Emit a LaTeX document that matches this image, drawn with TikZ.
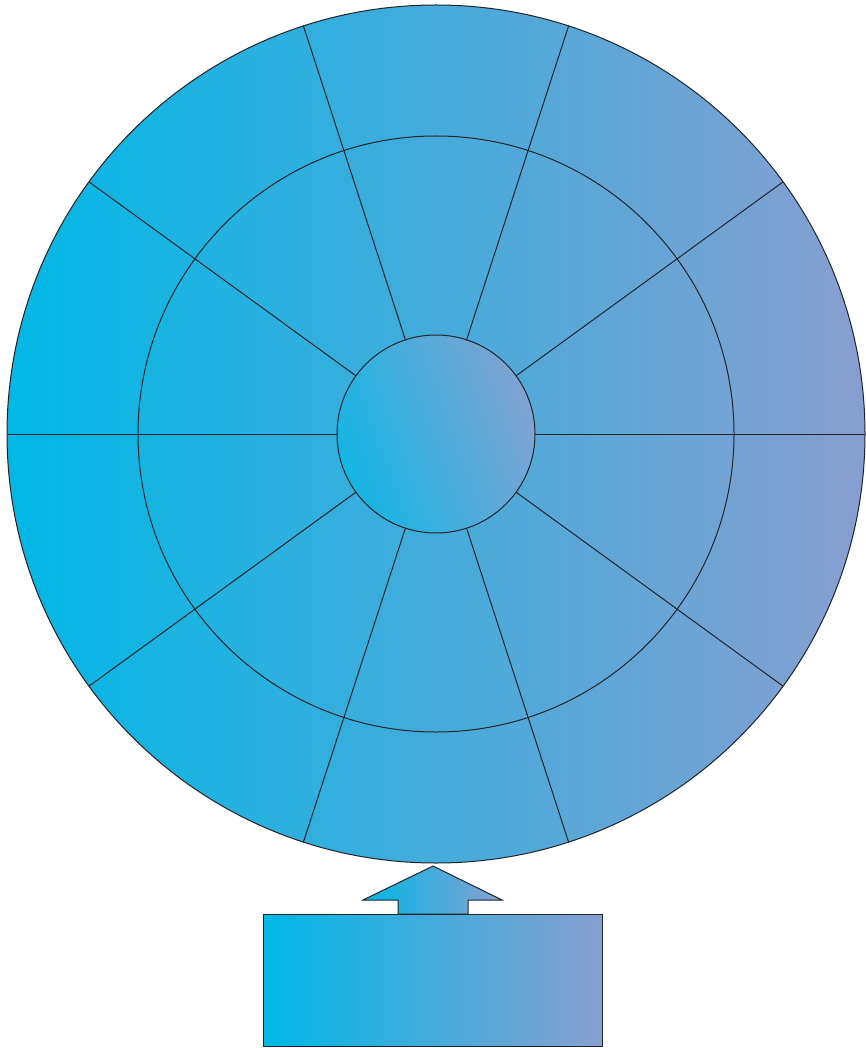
\documentclass[tikz,border=0pt]{standalone}
\usetikzlibrary{calc}
\definecolor{cA}{RGB}{0,184,230}
\definecolor{cB}{RGB}{136,159,208}
\definecolor{cC}{RGB}{20,182,228}
\definecolor{cD}{RGB}{128,163,210}
\definecolor{ink}{RGB}{35,35,40}
\tikzset{
  edge/.style={draw=ink, line width=1pt},
  grad/.style={left color=cA, right color=cB},
}
\begin{document}
\begin{tikzpicture}[x=1pt,y=-1pt]
\useasboundingbox (0,0) rectangle (865,1048);
\coordinate (c) at (436,434);
% outer disc
\shade[grad] (c) circle (429);
\draw[edge] (c) circle (429);
\draw[edge] (c) circle (298);
% spokes
\foreach \a in {0,36,...,324}{
  \draw[edge] ($(c)+(\a:99)$) -- ($(c)+(\a:429)$);
}
% centre disc
\shade[top color=cC, bottom color=cD, shading angle=110] (c) circle (99);
\draw[edge] (c) circle (99);
% arrow
\coordinate (tip) at (433,866);
\shade[grad] (tip) -- (502,900) -- (468,900) -- (468,914) -- (398,914) -- (398,900) -- (363,900) -- cycle;
\draw[edge, line join=miter] (tip) -- (502,900) -- (468,900) -- (468,914) -- (398,914) -- (398,900) -- (363,900) -- cycle;
% box
\shade[grad] (263,914) rectangle (602,1046);
\draw[edge] (263,914) rectangle (602,1046);
\end{tikzpicture}
\end{document}
